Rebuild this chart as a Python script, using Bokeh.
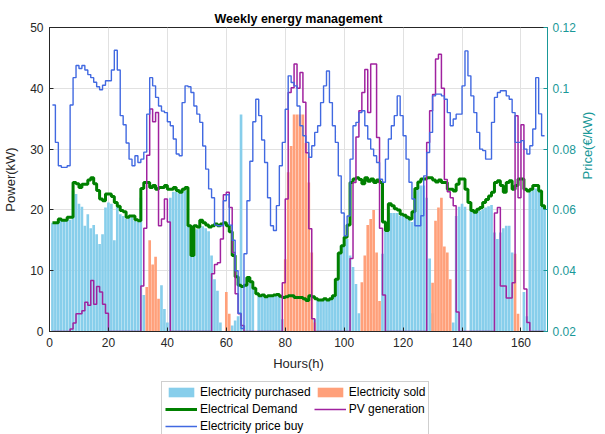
import math
from bokeh.plotting import figure
from bokeh.layouts import column
from bokeh.models import (Range1d, LinearAxis, FixedTicker, Legend, LegendItem,
                          CustomJSTickFormatter)
from bokeh.embed import file_html
from bokeh.resources import INLINE

hours = list(range(1, 169))

purchased = [
    17.9, 17.9, 18.5, 18.3, 18.3, 18.5, 18.4, 23.2, 22.6, 21.0,
    20.5, 17.4, 19.3, 17.0, 17.5, 16.0, 14.4, 16.0, 20.4, 21.2,
    21.0, 15.0, 21.0, 19.3, 19.0, 18.6, 18.8, 18.8, 18.2, 18.0,
    22.0, 6.0, 0, 0, 0, 0, 0, 7.6, 3.7, 1.5,
    22.0, 23.0, 23.0, 22.7, 23.0, 23.2, 17.4, 12.5, 16.8, 16.8,
    17.3, 17.3, 17.0, 16.5, 12.5, 8.6, 6.7, 1.5, 0, 0,
    0, 1.0, 1.8, 2.5, 35.7, 1.0, 8.9, 8.0, 7.1, 0,
    5.9, 6.0, 5.7, 5.9, 5.9, 5.9, 6.0, 5.8, 2.0, 0,
    0, 0, 0, 0, 0, 0, 0, 0, 0, 2.0,
    5.4, 5.2, 5.4, 5.2, 5.4, 5.9, 8.6, 12.9, 14.1, 15.4,
    15.2, 12.5, 10.6, 7.8, 3.0, 0, 0, 0, 0, 0,
    0, 0, 12.8, 16.6, 19.5, 19.5, 19.5, 19.5, 19.0, 19.0,
    18.8, 18.5, 18.0, 23.0, 23.5, 24.0, 24.0, 22.0, 12.0, 3.0,
    0, 0, 0, 0, 0, 0, 1.5, 19.0, 20.5, 21.0,
    20.5, 0, 19.8, 19.6, 19.6, 19.8, 20.1, 20.4, 20.6, 20.8,
    16.3, 15.2, 16.3, 17.0, 17.4, 17.4, 13.0, 0, 0, 0,
    6.5, 2.5, 23.0, 23.5, 23.5, 23.0, 20.5, 20.0,
]

sold = [0.0] * 168
for h, v in [(33, 7.3), (34, 15.0), (35, 11.0), (36, 12.3), (37, 5.4),
             (60, 6.5), (61, 2.9),
             (80, 11.9), (81, 26.2), (82, 30.5), (83, 35.7), (84, 35.7),
             (85, 35.7), (86, 35.7), (87, 31.0), (88, 24.5), (89, 13.0), (90, 1.5),
             (106, 8.1), (107, 12.5), (108, 17.5), (109, 18.5), (110, 20.0),
             (111, 13.0), (112, 5.0),
             (130, 8.0), (131, 18.2), (132, 20.4), (133, 22.0), (134, 14.0),
             (135, 13.0), (136, 8.6),
             (158, 12.8), (159, 2.9)]:
    sold[h - 1] = v

demand = [
    17.9, 17.9, 18.5, 18.3, 18.3, 18.8, 18.8, 24.5, 24.3, 23.7,
    24.2, 24.2, 24.9, 25.3, 24.3, 23.2, 21.8, 21.5, 22.6, 22.6,
    22.2, 21.2, 20.6, 19.9, 19.7, 18.8, 19.0, 19.0, 18.4, 18.2,
    23.5, 24.5, 24.5, 23.7, 24.0, 23.4, 23.7, 23.7, 24.0, 23.4,
    23.4, 23.7, 23.2, 22.9, 23.4, 23.7, 17.4, 12.5, 17.4, 17.2,
    18.3, 17.9, 17.5, 17.2, 17.4, 17.7, 17.4, 17.7, 17.9, 17.4,
    16.4, 12.5, 9.0, 7.6, 7.4, 7.6, 8.9, 8.2, 7.1, 6.2,
    5.9, 6.0, 5.7, 5.9, 5.9, 6.0, 6.1, 5.8, 5.6, 5.7,
    5.9, 5.9, 5.6, 5.6, 5.6, 5.4, 5.1, 5.9, 5.7, 5.4,
    5.2, 5.2, 5.4, 5.2, 5.4, 5.9, 8.6, 12.9, 14.1, 15.5,
    17.5, 24.5, 25.1, 25.3, 25.0, 24.3, 25.3, 24.7, 25.1, 24.5,
    24.9, 24.5, 18.0, 16.6, 21.0, 20.7, 20.2, 20.0, 19.3, 19.1,
    18.8, 18.5, 19.7, 23.5, 24.6, 25.1, 25.1, 25.3, 25.3, 24.9,
    24.6, 24.9, 24.5, 24.5, 23.4, 23.4, 23.1, 24.2, 25.1, 25.1,
    23.4, 21.2, 19.9, 19.6, 20.1, 20.4, 21.2, 21.7, 22.3, 22.9,
    24.5, 24.8, 24.0, 22.9, 24.5, 24.8, 23.4, 24.0, 25.1, 25.1,
    23.4, 23.1, 23.4, 24.0, 24.0, 23.1, 20.7, 20.1,
]

pv = [0.0] * 168
for h, v in [(7, 0.4), (8, 1.4), (9, 2.9), (10, 2.9), (11, 3.4), (12, 4.8),
             (13, 4.3), (14, 8.4), (15, 4.5), (16, 7.4), (17, 6.5), (18, 4.5), (19, 3.0),
             (31, 7.5), (32, 17.0), (33, 29.0), (34, 36.6), (35, 34.5), (36, 36.0),
             (37, 17.4), (38, 18.5), (39, 21.8), (40, 18.0),
             (55, 9.5), (56, 11.0), (57, 11.3), (58, 15.2), (59, 22.5), (60, 22.9),
             (61, 20.4), (62, 13.0), (63, 6.2), (64, 2.9), (65, 1.0),
             (79, 8.0), (80, 21.8), (81, 39.3), (82, 40.1), (83, 44.0), (84, 40.0),
             (85, 42.6), (86, 37.7), (87, 29.4), (88, 16.9), (89, 2.1),
             (102, 12.0), (103, 24.5), (104, 32.0), (105, 36.3), (106, 39.3),
             (107, 43.1), (108, 36.0), (109, 44.0), (110, 44.0), (111, 31.9),
             (112, 17.0), (113, 6.0),
             (128, 31.1), (129, 36.3), (130, 39.0), (131, 44.8), (132, 45.6),
             (133, 40.0), (134, 25.0), (135, 23.0), (136, 22.0), (137, 20.7), (138, 3.2),
             (151, 19.5), (152, 20.4), (153, 7.5), (154, 7.5), (155, 5.5), (156, 5.5),
             (157, 8.0), (158, 35.5), (159, 22.0), (160, 34.0), (161, 7.0), (162, 1.5)]:
    pv[h - 1] = v

price = [
    0.0945, 0.0822, 0.0745, 0.0740, 0.0740, 0.0745, 0.0945, 0.1035, 0.1075, 0.1065,
    0.1075, 0.1060, 0.1045, 0.1035, 0.1020, 0.1005, 0.0995, 0.1010, 0.1025, 0.1025,
    0.1060, 0.1125, 0.1060, 0.0910, 0.0880, 0.0820, 0.0767, 0.0745, 0.0778, 0.0756,
    0.0767, 0.0790, 0.0915, 0.1035, 0.1008, 0.0970, 0.0942, 0.0925, 0.0920, 0.0890,
    0.0877, 0.0833, 0.0784, 0.0778, 0.0953, 0.1008, 0.1005, 0.0986, 0.0942, 0.0915,
    0.0888, 0.0810, 0.0734, 0.0669, 0.0640, 0.0550, 0.0548, 0.0548, 0.0630, 0.0650,
    0.0550, 0.0500, 0.0400, 0.0260, 0.0210, 0.0456, 0.0630, 0.0760, 0.0890, 0.0964,
    0.0910, 0.0830, 0.0756, 0.0640, 0.0548, 0.0532, 0.0614, 0.0745, 0.0822, 0.0931,
    0.1041, 0.1019, 0.1008, 0.0942, 0.0877, 0.0844, 0.0822, 0.0773, 0.0811, 0.0855,
    0.0877, 0.0953, 0.1008, 0.1057, 0.0953, 0.0877, 0.0822, 0.0712, 0.0590, 0.0515,
    0.0580, 0.0767, 0.0877, 0.0888, 0.0920, 0.0926, 0.0877, 0.0833, 0.0800, 0.0778,
    0.0756, 0.0701, 0.0691, 0.0767, 0.0833, 0.0877, 0.0910, 0.0975, 0.0910, 0.0844,
    0.0767, 0.0691, 0.0636, 0.0548, 0.0548, 0.0581, 0.0712, 0.0789, 0.0855, 0.0975,
    0.0981, 0.0981, 0.0975, 0.0964, 0.0920, 0.0877, 0.0899, 0.0915, 0.0915, 0.1008,
    0.1123, 0.1041, 0.0975, 0.0920, 0.0855, 0.0800, 0.0795, 0.0767, 0.0767, 0.0888,
    0.0970, 0.0986, 0.0992, 0.0992, 0.0975, 0.0964, 0.0920, 0.0822, 0.0822, 0.0828,
    0.0800, 0.0784, 0.0811, 0.0866, 0.1035, 0.0916, 0.0844, 0.0844,
]

x_ticks = [0, 20, 40, 60, 80, 100, 120, 140, 160]
y_ticks = [0, 10, 20, 30, 40, 50]
price_ticks = [0.02, 0.04, 0.06, 0.08, 0.10, 0.12]
labels = ["Electricity purchased", "Electricity sold", "Electrical Demand",
          "PV generation", "Electricity price buy"]

FONT = "Liberation Sans"
TEAL = "#199898"
DARK = "#262626"
C_PUR, C_SOLD, C_DEM, C_PV, C_PRICE = "#87CEEB", "#FFA07A", "#008000", "#A0229F", "#4169E1"

p = figure(width=605, height=378,
           x_range=Range1d(0, 169), y_range=Range1d(0, 50),
           output_backend="svg", toolbar_location=None,
           min_border_left=49, min_border_right=54, min_border_top=27,
           min_border_bottom=47)
p.extra_y_ranges = {"price": Range1d(0.02, 0.12)}

p.title.text = "Weekly energy management"
p.title.align = "center"
p.title.text_font = FONT
p.title.text_font_size = "12.5px"
p.title.text_font_style = "bold"
p.title.text_color = "#000000"
p.title.standoff = 3

p.outline_line_color = DARK
p.outline_line_width = 1

p.vbar(x=hours, top=purchased, width=0.9, fill_color=C_PUR, line_color=None)
p.vbar(x=hours, top=sold, width=0.9, fill_color=C_SOLD, line_color=None)
p.step(x=hours, y=demand, mode="after", line_color=C_DEM, line_width=3)
p.step(x=hours, y=pv, mode="after", line_color=C_PV, line_width=1.5)
p.step(x=hours, y=price, mode="after", line_color=C_PRICE, line_width=1.4,
       y_range_name="price")

for ax in (p.xaxis[0], p.yaxis[0]):
    ax.major_label_text_font = FONT
    ax.major_label_text_font_size = "12px"
    ax.major_label_text_color = DARK
    ax.axis_label_text_font = FONT
    ax.axis_label_text_font_size = "13px"
    ax.axis_label_text_font_style = "normal"
    ax.axis_label_text_color = DARK
    ax.axis_line_color = DARK
    ax.major_tick_line_color = DARK
    ax.major_tick_in = 4
    ax.major_tick_out = 0
    ax.minor_tick_line_color = None

p.xaxis[0].ticker = FixedTicker(ticks=x_ticks)
p.xaxis[0].axis_label = "Hours(h)"
p.xaxis[0].major_label_standoff = 6
p.xaxis[0].axis_label_standoff = 6
p.yaxis[0].ticker = FixedTicker(ticks=y_ticks)
p.yaxis[0].axis_label = "Power(kW)"
p.yaxis[0].major_label_standoff = 6
p.yaxis[0].axis_label_standoff = 9

rax = LinearAxis(y_range_name="price", axis_label="Price(€/kW)",
                 ticker=FixedTicker(ticks=price_ticks),
                 formatter=CustomJSTickFormatter(
                     code="return String(Math.round(tick*100)/100);"))
rax.major_label_text_font = FONT
rax.major_label_text_font_size = "12px"
rax.major_label_text_color = TEAL
rax.axis_label_text_font = FONT
rax.axis_label_text_font_size = "13px"
rax.axis_label_text_font_style = "normal"
rax.axis_label_text_color = TEAL
rax.axis_label_orientation = math.pi / 2
rax.axis_line_color = TEAL
rax.major_tick_line_color = TEAL
rax.major_tick_in = 4
rax.major_tick_out = 0
rax.minor_tick_line_color = None
rax.major_label_standoff = 5
rax.axis_label_standoff = 9
p.add_layout(rax, "right")

p.xgrid.ticker = FixedTicker(ticks=x_ticks)
p.ygrid.ticker = FixedTicker(ticks=y_ticks)
p.xgrid.grid_line_color = "#E1E1E1"
p.ygrid.grid_line_color = "#E1E1E1"

# Legend strip beneath the chart; its sample glyphs sit outside the visible range
q = figure(width=605, height=56, x_range=Range1d(0, 1), y_range=Range1d(0, 1),
           output_backend="svg", toolbar_location=None, min_border=0,
           x_axis_location=None, y_axis_location=None)
q.grid.visible = False
q.outline_line_color = None
off_x = [-5, -4]
off_y = [-5, -5]
g_pur = q.vbar(x=off_x, top=off_y, width=0.9, fill_color=C_PUR, line_color=None)
g_sold = q.vbar(x=off_x, top=off_y, width=0.9, fill_color=C_SOLD, line_color=None)
g_dem = q.line(x=off_x, y=off_y, line_color=C_DEM, line_width=3)
g_pv = q.line(x=off_x, y=off_y, line_color=C_PV, line_width=1.5)
g_price = q.line(x=off_x, y=off_y, line_color=C_PRICE, line_width=1.4)

legend = Legend(items=[LegendItem(label=lab, renderers=[r]) for lab, r in
                       zip(labels, [g_pur, g_sold, g_dem, g_pv, g_price])],
                orientation="horizontal", ncols=2, location=(112, -3))
legend.label_text_font = FONT
legend.label_text_font_size = "12px"
legend.label_text_color = "#000000"
legend.glyph_width = 32
legend.glyph_height = 12
legend.label_height = 14
legend.label_standoff = 3
legend.spacing = 3
legend.padding = 3
legend.margin = 0
legend.border_line_color = "#A0A0A0"
legend.border_line_width = 1
legend.background_fill_alpha = 1
q.add_layout(legend, "center")

layout = column(p, q, spacing=0)
open("out.html", "w").write(file_html(layout, INLINE))
